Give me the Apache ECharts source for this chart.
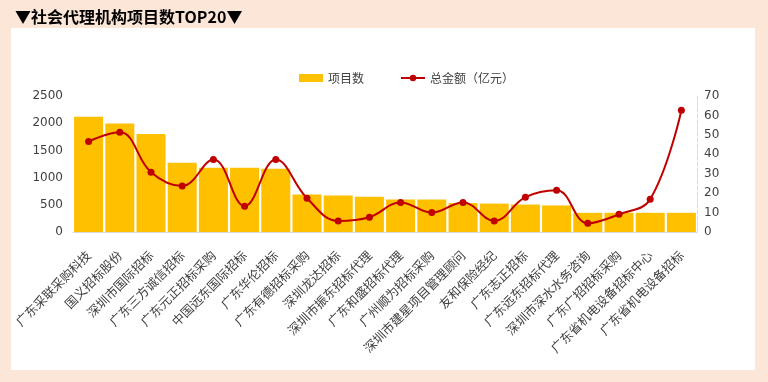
<!DOCTYPE html>
<html><head><meta charset="utf-8">
<script src="https://cdn.jsdelivr.net/npm/echarts@6/dist/echarts.min.js"></script>
<style>html,body{margin:0;padding:0;background:#fce6d8;}#c{width:768px;height:382px;}</style>
</head><body><div id="c"></div>
<script>
const categories = ['广东采联采购科技','国义招标股份','深圳市国际招标','广东三方诚信招标','广东元正招标采购','中国远东国际招标','广东华伦招标','广东有德招标采购','深圳龙达招标','深圳市振东招标代理','广东和盛招标代理','广州顺为招标采购','深圳市建星项目管理顾问','友和保险经纪','广东志正招标','广东远东招标代理','深圳市深水水务咨询','广东广招招标采购','广东省机电设备招标中心','广东省机电设备招标'];
const projectCounts = [2118,1995,1800,1272,1182,1182,1162,690,670,648,598,598,532,522,505,488,353,353,353,353];
const amounts = [46.6,51.3,30.8,23.7,37.3,13.3,37.3,17.4,5.7,7.6,15.2,10.0,15.2,5.7,17.9,21.5,4.5,9.1,16.9,62.7];
const leftTicks = [0,500,1000,1500,2000,2500];
const rightTicks = [0,10,20,30,40,50,60,70];
const names = ['项目数','总金额（亿元）'];
const titleText = '▼社会代理机构项目数TOP20▼';

const chart = echarts.init(document.getElementById('c'), null, {renderer:'canvas'});
chart.setOption({
  backgroundColor:'#fce6d8',
  animation:false,
  textStyle:{fontFamily:'DejaVu Sans, Noto Sans CJK SC'},
  graphic:[{type:'rect',shape:{x:11,y:28,width:744,height:342},style:{fill:'#ffffff'},z:-10}],
  title:{text:titleText,left:10,top:4,textStyle:{fontFamily:'Noto Sans CJK SC',fontWeight:'bold',fontSize:16,color:'#000'}},
  legend:{left:294,top:67,itemWidth:24,itemHeight:8,itemGap:36,textStyle:{fontFamily:'Noto Sans CJK SC',fontSize:12,color:'#404040'},
    data:[{name:names[0],icon:'rect'},{name:names[1]}]},
  grid:{left:73,right:71,top:96,bottom:150},
  xAxis:{type:'category',data:categories,
    axisLine:{show:true,lineStyle:{color:'#d9d9d9'}},axisTick:{show:false},
    axisLabel:{rotate:45,interval:0,fontSize:12.5,color:'#404040',fontFamily:'Noto Sans CJK SC',margin:21}},
  yAxis:[
    {type:'value',min:leftTicks[0],max:leftTicks[leftTicks.length-1],interval:500,
     splitLine:{show:false},axisLine:{show:false},axisTick:{show:false},
     axisLabel:{fontSize:12,color:'#404040',margin:10,formatter:v=>String(v)}},
    {type:'value',min:rightTicks[0],max:rightTicks[rightTicks.length-1],interval:10,position:'right',
     splitLine:{show:false},axisLine:{show:true,lineStyle:{color:'#d9d9d9',type:'dashed'}},axisTick:{show:false},
     axisLabel:{fontSize:12,color:'#404040',margin:7,formatter:v=>String(v)}}
  ],
  series:[
    {name:names[0],type:'bar',data:projectCounts,barCategoryGap:'7%',itemStyle:{color:'#ffc000'}},
    {name:names[1],type:'line',yAxisIndex:1,data:amounts,smooth:0.4,symbol:'circle',symbolSize:7,
     lineStyle:{color:'#c00000',width:2},itemStyle:{color:'#c00000'}}
  ]
});
</script></body></html>
